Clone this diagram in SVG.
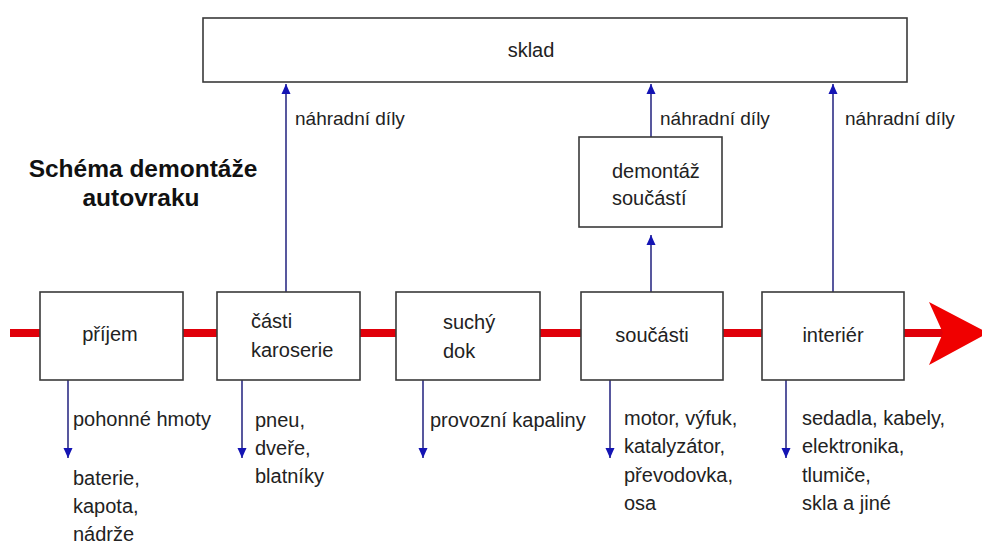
<svg xmlns="http://www.w3.org/2000/svg" width="982" height="546" viewBox="0 0 982 546">
<style>
.box{fill:#fff;stroke:#3a3a3a;stroke-width:1.6}
.t{font-family:"Liberation Sans",Arial,sans-serif;font-size:20px;fill:#222}
.s{font-size:19px}
.m{text-anchor:middle}
.title{font-family:"Liberation Sans",Arial,sans-serif;font-size:24.5px;font-weight:bold;fill:#111;text-anchor:middle}
.ln{stroke:#2e2e86;stroke-width:1.6;fill:none}
.red{stroke:#e0000a;stroke-width:8;fill:none}
</style>
<defs>
<marker id="ah" viewBox="0 0 10 14" refX="10" refY="7" markerWidth="10" markerHeight="14" markerUnits="userSpaceOnUse" orient="auto">
<path d="M0,2.5 L10,7 L0,11.5 Z" fill="#1414b4"/>
</marker>
</defs>
<rect width="982" height="546" fill="#fff"/>
<g id="connectors">
<line class="red" x1="10" y1="333" x2="944" y2="333"/>
<polygon points="929,302 988,333 929,365 943,333" fill="#f00000"/>
<line class="ln" x1="286" y1="292" x2="286" y2="84" marker-end="url(#ah)"/>
<line class="ln" x1="651" y1="292" x2="651" y2="235" marker-end="url(#ah)"/>
<line class="ln" x1="651" y1="137" x2="651" y2="84" marker-end="url(#ah)"/>
<line class="ln" x1="833" y1="292" x2="833" y2="84" marker-end="url(#ah)"/>
<line class="ln" x1="68" y1="380" x2="68" y2="458" marker-end="url(#ah)"/>
<line class="ln" x1="242" y1="380" x2="242" y2="458" marker-end="url(#ah)"/>
<line class="ln" x1="423" y1="380" x2="423" y2="458" marker-end="url(#ah)"/>
<line class="ln" x1="610" y1="380" x2="610" y2="458" marker-end="url(#ah)"/>
<line class="ln" x1="786" y1="380" x2="786" y2="458" marker-end="url(#ah)"/>
</g>
<g id="sklad">
<rect class="box" x="203" y="18" width="704" height="64"/>
<text class="t m" x="531" y="57">sklad</text>
</g>
<g id="title">
<text class="title" x="143" y="177">Schéma demontáže</text>
<text class="title" x="141" y="206">autovraku</text>
</g>
<g id="prijem">
<rect class="box" x="40" y="292" width="143" height="88"/>
<text class="t m" x="110" y="341">příjem</text>
</g>
<g id="casti-karoserie">
<rect class="box" x="217" y="292" width="143" height="88"/>
<text class="t" x="251" y="328">části</text>
<text class="t" x="251" y="357">karoserie</text>
</g>
<g id="suchy-dok">
<rect class="box" x="396" y="292" width="144" height="88"/>
<text class="t" x="443" y="329">suchý</text>
<text class="t" x="443" y="358">dok</text>
</g>
<g id="soucasti">
<rect class="box" x="581" y="292" width="142" height="88"/>
<text class="t m" x="652" y="342">součásti</text>
</g>
<g id="interier">
<rect class="box" x="762" y="292" width="142" height="88"/>
<text class="t m" x="833" y="342">interiér</text>
</g>
<g id="demontaz-soucasti">
<rect class="box" x="579" y="137" width="143" height="90"/>
<text class="t" x="612" y="178">demontáž</text>
<text class="t" x="612" y="205">součástí</text>
</g>
<g id="labels">
<text class="t s" x="295" y="125">náhradní díly</text>
<text class="t s" x="660" y="125">náhradní díly</text>
<text class="t s" x="845" y="125">náhradní díly</text>
<text class="t" x="73" y="426">pohonné hmoty</text>
<text class="t" x="73" y="485">baterie,</text>
<text class="t" x="73" y="513">kapota,</text>
<text class="t" x="73" y="541">nádrže</text>
<text class="t" x="255" y="427">pneu,</text>
<text class="t" x="255" y="455">dveře,</text>
<text class="t" x="255" y="483">blatníky</text>
<text class="t" x="430" y="427">provozní kapaliny</text>
<text class="t" x="624" y="425">motor, výfuk,</text>
<text class="t" x="624" y="453">katalyzátor,</text>
<text class="t" x="624" y="482">převodovka,</text>
<text class="t" x="624" y="510">osa</text>
<text class="t" x="802" y="425">sedadla, kabely,</text>
<text class="t" x="802" y="453">elektronika,</text>
<text class="t" x="802" y="482">tlumiče,</text>
<text class="t" x="802" y="510">skla a jiné</text>
</g>
</svg>
